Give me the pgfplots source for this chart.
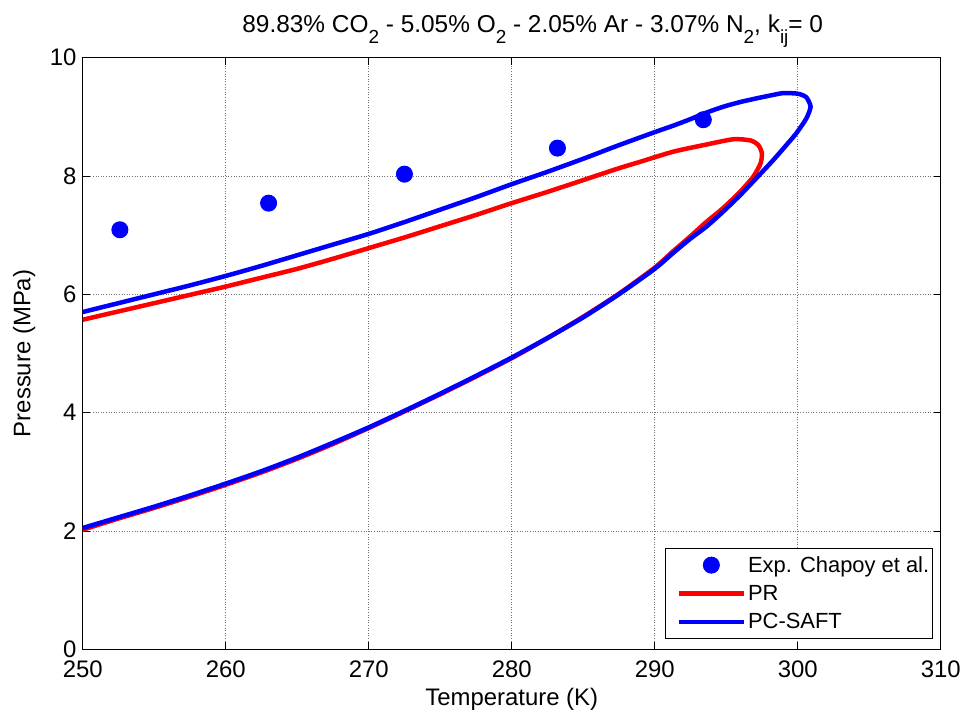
\documentclass[border=0pt]{standalone}
\usepackage{pgfplots}
\pgfplotsset{compat=1.18}
\usepackage{fontspec}
\setmainfont{Liberation Sans}

% lowered subscript in the text font
\newcommand\sub[1]{\raisebox{-11bp}{\fontsize{19}{19}\selectfont #1}}

\begin{document}
\begin{tikzpicture}
\begin{axis}[
  at={(0,0)}, anchor=south west,
  scale only axis,
  width=858bp, height=591.7bp,
  xmin=250, xmax=310, ymin=0, ymax=10,
  xtick={250,260,...,310}, ytick={0,2,...,10},
  tick pos=both, tick align=inside,
  major tick length=7bp,
  every tick/.style={black, line width=0.8bp},
  axis line style={line width=1bp, black},
  grid=major,
  major grid style={black!55, line width=0.8bp, dash pattern=on 1bp off 1.6bp},
  /pgf/number format/assume math mode=true,
  /pgf/number format/1000 sep={},
  tick label style={font=\fontsize{24}{24}\selectfont},
  xticklabel style={anchor=base, inner sep=0pt, yshift=-27.7bp},
  yticklabel style={anchor=east, inner sep=0pt, xshift=-6bp},
  xlabel={Temperature (K)},
  ylabel={Pressure (MPa)},
  label style={font=\fontsize{24}{24}\selectfont},
  xlabel style={at={(axis description cs:0.5,-0.0945)}, anchor=base, inner sep=0pt},
  ylabel style={at={(axis description cs:-0.0611,0.5)}, anchor=base, inner sep=0pt},
  title={89.83\% CO\sub{2} - 5.05\% O\sub{2} - 2.05\% Ar - 3.07\% N\sub{2}, k\sub{ij}= 0},
  title style={at={(axis description cs:0.5245,1.0331)}, anchor=base, inner sep=0pt,
    font=\fontsize{24.5}{24.5}\selectfont},
  legend style={at={(axis description cs:0.9907,0.0174)}, anchor=south east,
    draw=black, line width=1bp, fill=white,
    inner xsep=1bp, inner ysep=6.1bp, row sep=7.6bp,
    font=\fontsize{22}{22}\selectfont,
    nodes={inner sep=2bp, text depth=0.15em}},
  legend cell align=left,
  legend image code/.code={
    \path[draw=none, fill=none] (0bp,0bp) (79.6bp,0bp);
    \draw[mark repeat=2, mark phase=2, #1]
      plot coordinates {(12.4bp,0bp) (44.9bp,0bp) (77.4bp,0bp)};},
]

% experimental bubble/dew points
\addplot[only marks, mark=*, mark size=8bp, blue, line width=1bp]
  coordinates {
  (252.6,7.09) (263.0,7.54) (272.5,8.03) (283.2,8.47) (293.4,8.95)
  };
\addlegendentry{Exp. Chapoy et al.}

% Peng-Robinson phase envelope
\addplot[red, line width=4.5bp, line join=round, smooth, tension=0.4]
  table {
  250   2.02
  252.5 2.21
  255   2.39
  257.5 2.58
  260   2.78
  262.5 2.99
  265   3.22
  267.5 3.47
  270   3.74
  272.5 4.02
  275   4.31
  277.5 4.61
  280   4.92
  282.5 5.26
  285   5.62
  287.5 6.01
  290   6.45
  291.3 6.73
  292.5 6.98
  293.6 7.22
  294.8 7.46
  296   7.74
  296.9 7.99
  297.4 8.21
  297.5 8.38
  297.25 8.52
  296.7 8.60
  295.5 8.62
  293.6 8.53
  291.3 8.41
  289   8.24
  287.5 8.13
  285   7.93
  282.5 7.73
  280   7.54
  277.5 7.34
  275   7.15
  272.5 6.96
  270   6.78
  267.5 6.60
  265   6.43
  262.5 6.28
  260   6.13
  257.5 5.99
  255   5.85
  252.5 5.71
  250   5.57
  };
\addlegendentry{PR}

% PC-SAFT phase envelope
\addplot[blue, line width=4.5bp, line join=round, smooth, tension=0.4]
  table {
  250    2.05
  252.5  2.23
  255    2.41
  257.5  2.60
  260    2.80
  262.5  3.01
  265    3.24
  267.5  3.49
  270    3.75
  272.5  4.03
  275    4.32
  277.5  4.62
  280    4.93
  282.5  5.26
  285    5.61
  287.5  6.00
  290    6.43
  291.3  6.70
  292.5  6.94
  293.6  7.14
  294.8  7.40
  296    7.68
  297.1  7.96
  298.3  8.27
  299.2  8.52
  299.9  8.72
  300.6  8.97
  300.9  9.17
  300.6  9.33
  300    9.39
  299    9.40
  298.3  9.37
  297.1  9.31
  296    9.25
  294.8  9.17
  293.5  9.06
  292.5  8.96
  291.3  8.85
  290    8.74
  287.5  8.52
  285    8.29
  282.5  8.07
  280    7.86
  277.5  7.64
  275    7.43
  272.5  7.22
  270    7.02
  267.5  6.84
  265    6.66
  262.5  6.48
  260    6.31
  257.5  6.15
  255    6.00
  252.5  5.85
  250    5.70
  };
\addlegendentry{PC-SAFT}

\end{axis}
\pgfresetboundingbox
\path[use as bounding box] (-82.7bp,-67.7bp) rectangle (884.3bp,649.3bp);
\end{tikzpicture}
\end{document}
